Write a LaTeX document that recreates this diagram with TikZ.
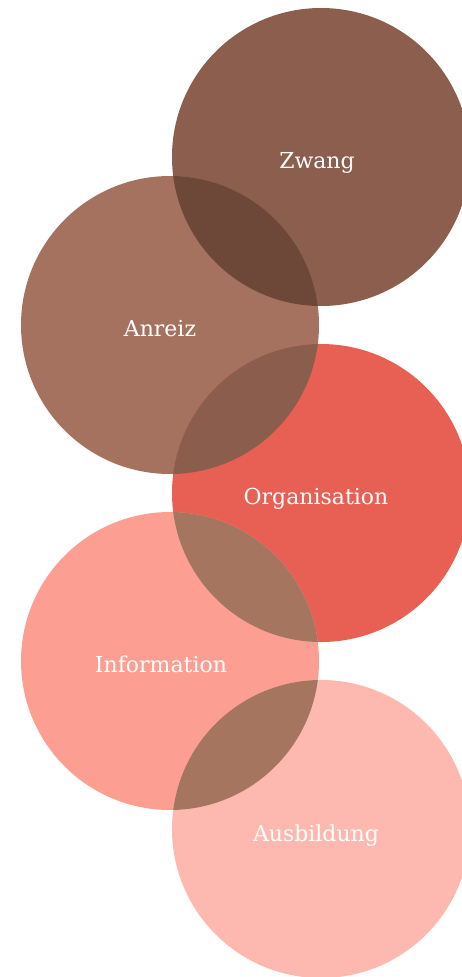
\documentclass[tikz,border=0pt]{standalone}
\usepackage{fontspec}
\setmainfont{DejaVu Serif}
\definecolor{cZwang}{RGB}{139,94,77}
\definecolor{cAnreiz}{RGB}{166,114,96}
\definecolor{cOrg}{RGB}{232,96,83}
\definecolor{cInfo}{RGB}{252,159,146}
\definecolor{cAus}{RGB}{253,185,175}
\definecolor{oZA}{RGB}{109,72,57}
\definecolor{oAO}{RGB}{138,93,76}
\definecolor{oOI}{RGB}{166,117,96}
\definecolor{oIA}{RGB}{166,117,96}
\tikzset{
  lbl/.style={text=white, font=\fontsize{22}{26}\selectfont, inner sep=0pt, anchor=base}
}
\begin{document}
\begin{tikzpicture}[x=1pt,y=-1pt]
\useasboundingbox (0,0) rectangle (462,977);
\clip (0,0) rectangle (462,977);
\def\R{149}
\coordinate (cz) at (321,157);
\coordinate (ca) at (170,325);
\coordinate (co) at (321,493);
\coordinate (ci) at (170,661);
\coordinate (cu) at (321,829);
\fill[cZwang] (cz) circle[radius=\R];
\fill[cAnreiz] (ca) circle[radius=\R];
\fill[cOrg] (co) circle[radius=\R];
\fill[cInfo] (ci) circle[radius=\R];
\fill[cAus] (cu) circle[radius=\R];
\begin{scope}
  \clip (cz) circle[radius=\R];
  \fill[oZA] (ca) circle[radius=\R];
\end{scope}
\begin{scope}
  \clip (ca) circle[radius=\R];
  \fill[oAO] (co) circle[radius=\R];
\end{scope}
\begin{scope}
  \clip (co) circle[radius=\R];
  \fill[oOI] (ci) circle[radius=\R];
\end{scope}
\begin{scope}
  \clip (ci) circle[radius=\R];
  \fill[oIA] (cu) circle[radius=\R];
\end{scope}
\node[lbl] (tz) at (317,168) {Zwang};
\node[lbl] (ta) at (160,336) {Anreiz};
\node[lbl] (to) at (316,504) {Organisation};
\node[lbl] (ti) at (161,672) {Information};
\node[lbl] (tu) at (316,841) {Ausbildung};
\end{tikzpicture}
\end{document}
